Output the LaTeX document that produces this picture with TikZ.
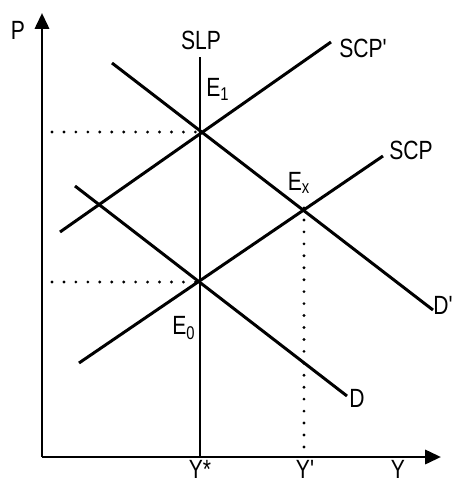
\documentclass[tikz,border=0pt]{standalone}
\usepackage{fontspec}
\setmainfont{Liberation Sans}
\newfontfamily\narrowsans[FakeStretch=0.8]{Liberation Sans}
\usetikzlibrary{arrows.meta}
\begin{document}
\begin{tikzpicture}[x=0.02cm,y=-0.02cm,
    curve/.style={line width=1.7pt},
    guide/.style={line width=1.8pt,line cap=round,dash pattern=on 0pt off 6.8pt},
    lbl/.style={font=\narrowsans\fontsize{15}{17}\selectfont,inner sep=0pt}]
    \useasboundingbox (0,0) rectangle (453,481);
    % Coordinates
    \coordinate (O) at (42,457);
    \coordinate (Ptop) at (42,13);
    \coordinate (Yend) at (441,457);
    \coordinate (E1) at (200,132);
    \coordinate (E0) at (200,282);
    \coordinate (Ex) at (304,208);
    \coordinate (SLPtop) at (200,57);
    \coordinate (SLPbot) at (200,457);
    \coordinate (SCPpa) at (60,232);
    \coordinate (SCPpb) at (331,42);
    \coordinate (SCPa) at (79,363);
    \coordinate (SCPb) at (383,156);
    \coordinate (Dpa) at (112,63);
    \coordinate (Dpb) at (433,310);
    \coordinate (Da) at (75,186);
    \coordinate (Db) at (347,396);
    \coordinate (Exbot) at (304,455);
    \coordinate (H1) at (52,132);
    \coordinate (H0) at (52,282);
    % Axes
    \draw[curve,-{Triangle[length=9pt,width=8pt]}] (O) -- (Ptop);
    \draw[curve,-{Triangle[length=9pt,width=8pt]}] (O) -- (Yend);
    % Curves
    \draw[curve] (SLPtop) -- (SLPbot);
    \draw[curve] (SCPpa) -- (SCPpb);
    \draw[curve] (SCPa) -- (SCPb);
    \draw[curve] (Dpa) -- (Dpb);
    \draw[curve] (Da) -- (Db);
    % Guides
    \draw[guide] (H1) -- (E1);
    \draw[guide] (H0) -- (E0);
    \draw[guide] (Ex) -- (Exbot);
    % Labels
    \node[lbl] (lP) at (18,30) {P};
    \node[lbl] (lY) at (398,469) {Y};
    \node[lbl] (lYs) at (200,469) {Y*};
    \node[lbl] (lYp) at (305,469) {Y'};
    \node[lbl] (lSLP) at (201,40) {SLP};
    \node[lbl] (lSCPp) at (363,48) {SCP'};
    \node[lbl] (lSCP) at (411,150) {SCP};
    \node[lbl] (lDp) at (443,305) {D'};
    \node[lbl] (lD) at (357,398) {D};
    \node[lbl] (lE1) at (218,89) {E\textsubscript{1}};
    \node[lbl] (lEx) at (299,183) {E\textsubscript{x}};
    \node[lbl] (lE0) at (184,328) {E\textsubscript{0}};
\end{tikzpicture}
\end{document}
